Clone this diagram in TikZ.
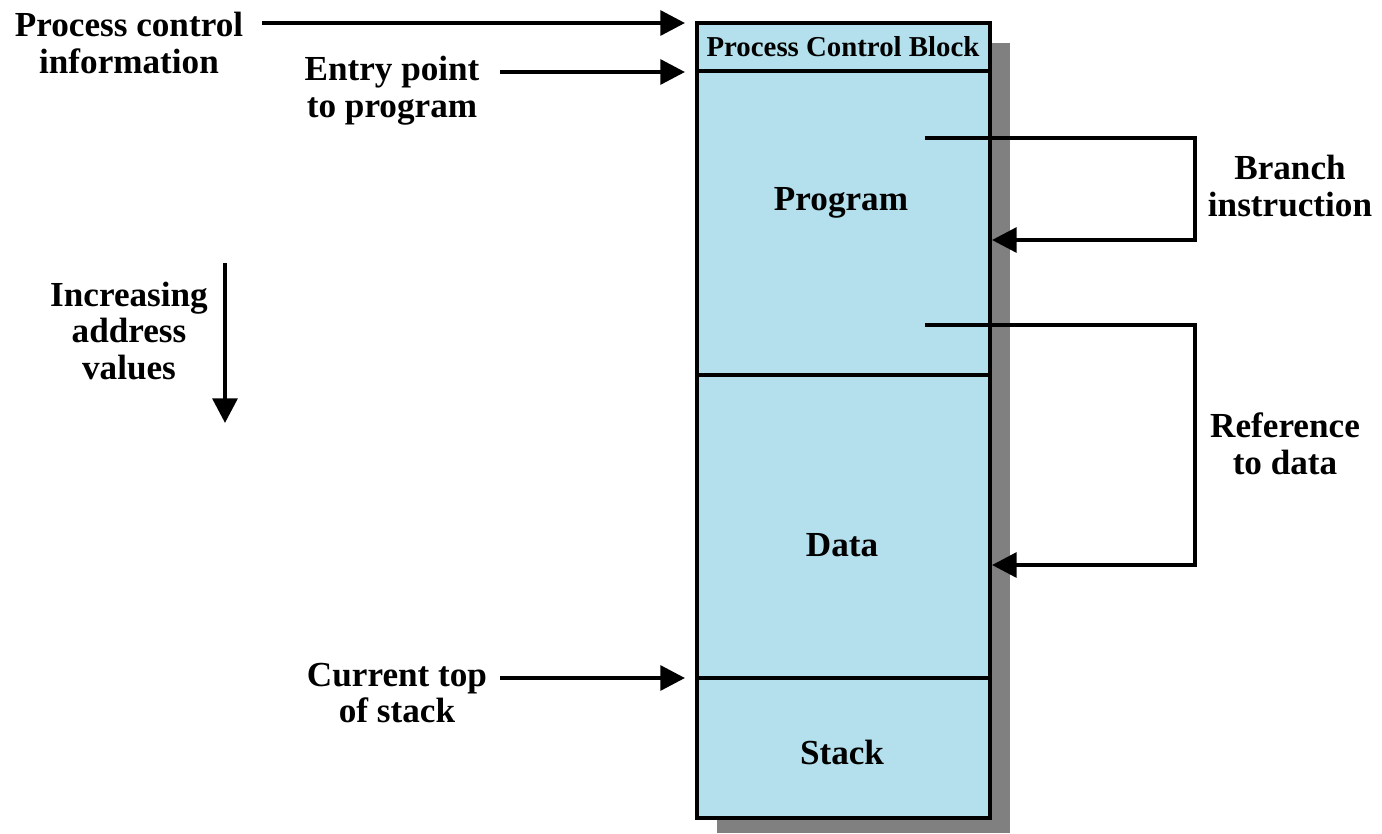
\documentclass[tikz,border=0pt]{standalone}
\usepackage{fontspec}
\setmainfont{Liberation Serif}
\usetikzlibrary{arrows.meta}
\definecolor{memblue}{RGB}{179,224,236}
\definecolor{shadowgray}{RGB}{128,128,128}
\tikzset{
  lbl/.style={font=\bfseries\fontsize{10}{10.5}\selectfont,align=center,inner sep=0pt},
  seg/.style={font=\bfseries\fontsize{10}{10.5}\selectfont,inner sep=0pt},
}

\begin{document}
\begin{tikzpicture}[x=0.01cm,y=-0.01cm,->,>={Triangle[length=7pt,width=7pt]},line width=1.2pt]
                \useasboundingbox (0,0) rectangle (1382,833);
                % the process image
                \fill[shadowgray,draw=none] (717,43) rectangle (1010,833);
                \filldraw[-,fill=memblue,draw=black,line width=1.4pt] (697,23) rectangle (990,818);
                \draw[-] (697,71) -- (990,71);
                \draw[-] (697,375) -- (990,375);
                \draw[-] (697,678) -- (990,678);
                \node[seg,font=\bfseries\fontsize{8.2}{10}\selectfont](pcb)at(843,47){Process Control Block};
                \node[seg](prog)at(841,203){Program};
                \node[seg](data)at(842,545){Data};
                \node[seg](stack)at(842,752){Stack};
                % labels
                \node[lbl](pci)at(129,43){Process control\\information};
                \node[lbl](entry)at(392,91){Entry point\\to program};
                \node[lbl](tos)at(397,693){Current top\\of stack};
                \node[lbl](incr)at(129,331){Increasing\\address\\values};
                \node[lbl](branch)at(1290,186){Branch\\instruction};
                \node[lbl](ref)at(1285,444){Reference\\to data};
                % connector ends
                \coordinate(pcitail)at(262,23);
                \coordinate(pcihead)at(685,23);
                \coordinate(entrytail)at(500,72);
                \coordinate(entryhead)at(685,72);
                \coordinate(tostail)at(500,678);
                \coordinate(toshead)at(685,678);
                \coordinate(incrtail)at(225,263);
                \coordinate(incrhead)at(225,423);
                \coordinate(jmp)at(925,138);
                \coordinate(jmpto)at(992,240);
                \coordinate(load)at(925,325);
                \coordinate(loadto)at(992,565);
                \path (pcitail) edge (pcihead)
                (entrytail) edge (entryhead)
                (tostail) edge (toshead)
                (incrtail) edge (incrhead);
                \draw (jmp) -- (1195,138) |- (jmpto);
                \draw (load) -- (1195,325) |- (loadto);
            \end{tikzpicture}
\end{document}
